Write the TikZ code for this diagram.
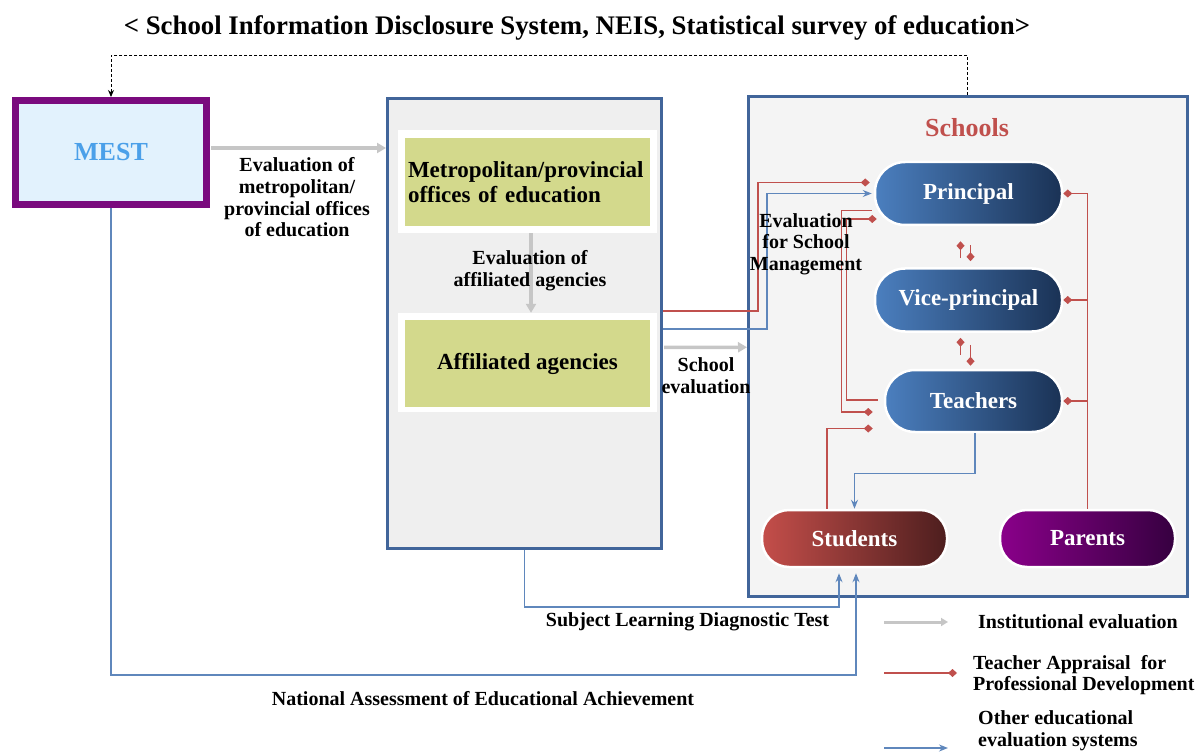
\documentclass[tikz,border=0pt]{standalone}
\usepackage{fontspec}
\setmainfont{Liberation Serif}
\usetikzlibrary{arrows.meta,calc}
\definecolor{mestpurple}{HTML}{7A0A7E}
\definecolor{mestfill}{HTML}{E2F2FD}
\definecolor{mesttext}{HTML}{4BA0E9}
\definecolor{boxborder}{HTML}{41659A}
\definecolor{boxfill}{HTML}{EFEFEF}
\definecolor{schoolfill}{HTML}{F4F4F4}
\definecolor{olivebox}{HTML}{D3D98C}
\definecolor{redline}{HTML}{C0504D}
\definecolor{blueline}{HTML}{5F87BC}
\definecolor{grayarrow}{HTML}{C6C6C6}
\definecolor{bluel}{HTML}{4B7FBF}
\definecolor{bluer}{HTML}{1A3255}
\definecolor{redl}{HTML}{C44E4A}
\definecolor{redr}{HTML}{4D1E1E}
\definecolor{purl}{HTML}{8A008A}
\definecolor{purr}{HTML}{360040}
\tikzset{
  lbl/.style={font=\fontsize{20}{21.7}\selectfont\bfseries, align=center, inner sep=0pt},
  bigbox/.style={draw=boxborder, line width=3pt, inner sep=0pt},
  plainbox/.style={inner sep=0pt, draw=none},
  pill/.style={draw=white, line width=2.5pt, inner sep=0pt, text=white,
     font=\fontsize{23}{25}\selectfont\bfseries},
  grayarr/.style={draw=grayarrow, line width=3.5pt, -{Triangle[length=9pt,width=10pt]}},
  redc/.style={draw=redline, line width=1.3pt, -{Diamond[length=9pt,width=8pt]}},
  bluec/.style={draw=blueline, line width=1.3pt, -{Stealth[length=9pt,width=7pt]}},
}
\begin{document}
\begin{tikzpicture}[x=1pt,y=-1pt]
\useasboundingbox (0,0) rectangle (1203,754);
% title
\node[font=\fontsize{26.8}{28}\selectfont\bfseries, inner sep=0pt] (title) at (577,28)
  {< School Information Disclosure System, NEIS, Statistical survey of education>};
% main boxes
\node[draw=mestpurple, line width=7pt, fill=mestfill, minimum width=191pt, minimum height=104pt,
      inner sep=0pt, text=mesttext, font=\fontsize{26}{28}\selectfont\bfseries] (mest) at (111,152.5) {MEST};
\node[bigbox, fill=boxfill, minimum width=274pt, minimum height=450pt] (box2) at (524.5,323.5) {};
\node[plainbox, fill=white, minimum width=259pt, minimum height=103pt] (band1) at (527.5,181.5) {};
\node[plainbox, fill=olivebox, minimum width=245pt, minimum height=88pt, text width=239pt,
      align=left, font=\fontsize{23}{25}\selectfont\bfseries] (metro) at (527.5,182) {Metropolitan/provincial\\offices of education};
\node[plainbox, fill=white, minimum width=259pt, minimum height=99pt] (band2) at (527.5,362.5) {};
\node[plainbox, fill=olivebox, minimum width=245pt, minimum height=87pt,
      font=\fontsize{23}{25}\selectfont\bfseries] (agency) at (527.5,363.5) {Affiliated agencies};
\node[bigbox, fill=schoolfill, minimum width=438.5pt, minimum height=499.5pt] (schools) at (967.75,346.25) {};
\node[font=\fontsize{26}{28}\selectfont\bfseries, text=redline, inner sep=0pt] (schoolstitle) at (967,128) {Schools};
% pills
\node[pill, rounded corners=30pt, left color=bluel, right color=bluer, minimum width=187pt, minimum height=63pt] (principal) at (968.5,193.5) {Principal};
\node[pill, rounded corners=30pt, left color=bluel, right color=bluer, minimum width=187pt, minimum height=63pt] (vp) at (968.5,300) {Vice-principal};
\node[pill, rounded corners=30pt, left color=bluel, right color=bluer, minimum width=177pt, minimum height=62pt] (teachers) at (973.5,401) {Teachers};
\node[pill, rounded corners=27pt, left color=redl, right color=redr, minimum width=185pt, minimum height=57pt] (students) at (854.5,538.5) {Students};
\node[pill, rounded corners=27pt, left color=purl, right color=purr, minimum width=175pt, minimum height=57pt] (parents) at (1087.5,538.5) {Parents};
% dashed feedback
\draw[dash pattern=on 3pt off 2pt, line width=1pt, -{Stealth[length=7pt,width=6pt]}]
  (schools.north) -- ++(0,-39.5) -| (mest.north);
% institutional evaluation (gray)
\draw[grayarr] ($(mest.east)+(1,-4.5)$) -- ($(box2.west)+(0,-175.5)$);
\draw[grayarr] ($(band1.south)+(3.5,0)$) -- ($(band2.north)+(3.5,0)$);
\draw[grayarr] ($(box2.east)+(1,24)$) -- ($(schools.west)+(0,1)$);
% from offices to principal
\draw[redc] ($(box2.east)+(0,-12.5)$) -- ++(95,0) |- ($(principal.west)+(-4,-11)$);
\draw[bluec] ($(box2.east)+(0,5.5)$) -- ++(104,0) |- ($(principal.west)+(-2,0)$);
% appraisal inside school
\draw[redc] ($(principal.west)+(-2,17)$) -- ++(-30,0) |- ($(teachers.west)+(-11,11)$);
\draw[redc] ($(teachers.west)+(-6,-1)$) -- ++(-31,0) |- ($(principal.west)+(3,25.5)$);
\draw[redc] ($(students.north)+(-27.5,0)$) |- ($(teachers.west)+(-11,27.5)$);
\draw[redc] (parents.north) |- (principal.east);
\draw[redc] (parents.north |- vp.east) -- (vp.east);
\draw[redc] (parents.north |- teachers.east) -- (teachers.east);
\draw[redc] ($(vp.north)+(-8,-9)$) -- ($(principal.south)+(-8,15)$);
\draw[redc] ($(principal.south)+(2,19)$) -- ($(vp.north)+(2,-6)$);
\draw[redc] ($(teachers.north)+(-13,-14)$) -- ($(vp.south)+(-8,5)$);
\draw[redc] ($(vp.south)+(2,12)$) -- ($(teachers.north)+(-3,-3)$);
% other evaluation systems (blue)
\draw[bluec] ($(teachers.south)+(1.5,0)$) -- ++(0,40) -| (students.north);
\draw[bluec] (box2.south) -- ++(0,57) -| ($(students.south)+(-15.5,5)$);
\draw[bluec] (mest.south) -- ++(0,467) -| ($(students.south)+(1.5,5)$);
% labels
\node[lbl] (l1) at (297,197.5) {Evaluation of\\metropolitan/\\provincial offices\\of education};
\node[lbl] (l2) at (530,271) {Evaluation of\\affiliated agencies};
\node[lbl] (l3) at (806,244) {Evaluation\\for School\\Management};
\node[lbl] (l4) at (706,376) {School\\evaluation};
\node[lbl] (l5) at (687.5,622) {Subject Learning Diagnostic Test};
\node[lbl] (l6) at (483,699) {National Assessment of Educational Achievement};
% legend
\coordinate (g1a) at (884,622); \coordinate (g1b) at (948,622);
\coordinate (g2a) at (884,673); \coordinate (g2b) at (957,673);
\coordinate (g3a) at (884,748); \coordinate (g3b) at (948,748);
\draw[grayarr, line width=3pt, -{Triangle[length=7pt,width=8pt]}] (g1a) -- (g1b);
\draw[redc] (g2a) -- (g2b);
\draw[bluec] (g3a) -- (g3b);
\node[lbl, anchor=west, align=left] (k1) at (978,622) {Institutional evaluation};
\node[lbl, anchor=west, align=left] (k2) at (973,675) {Teacher Appraisal\ \ for\\Professional Development};
\node[lbl, anchor=west, align=left] (k3) at (978,731) {Other educational\\evaluation systems};
\end{tikzpicture}
\end{document}
